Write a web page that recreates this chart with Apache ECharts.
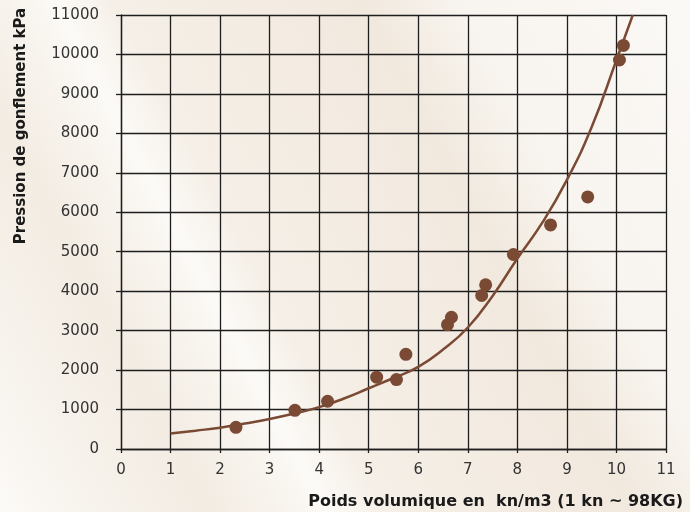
<!DOCTYPE html>
<html>
<head>
<meta charset="utf-8">
<script src="https://cdn.jsdelivr.net/npm/echarts@6/dist/echarts.min.js"></script>
<style>
html,body{margin:0;padding:0;}
body{width:690px;height:512px;overflow:hidden;
background:linear-gradient(62deg,#fcfaf7 0%,#f6f1ea 12%,#f3ece3 22%,#f8f4ee 30%,#fcfaf7 34%,#f5efe7 40%,#f3ebe1 58%,#f1e9de 66%,#f8f4ef 76%,#fbf9f6 100%);}
#c{width:690px;height:512px;}
</style>
</head>
<body>
<div id="c"></div>
<script>
// Measured points: poids volumique (kN/m3) vs pression de gonflement (kPa)
const pointX = [2.32, 3.51, 4.17, 5.16, 5.56, 5.75, 6.59, 6.67, 7.28, 7.36, 7.92, 8.67, 9.42, 10.06, 10.14];
const pointY = [550, 980, 1210, 1820, 1760, 2400, 3150, 3340, 3890, 4160, 4930, 5680, 6390, 9860, 10230];
// Fitted curve
const curveX = [1.0, 1.5, 2.0, 2.5, 3.0, 3.5, 4.0, 4.5, 5.0, 5.5, 6.0, 6.5, 7.0, 7.5, 8.0, 8.5, 9.0, 9.5, 10.0, 10.33];
const curveY = [395, 465, 540, 645, 760, 900, 1060, 1280, 1540, 1800, 2080, 2520, 3080, 3880, 4830, 5730, 6820, 8160, 9860, 11000];
const xTicks = [0,1,2,3,4,5,6,7,8,9,10,11];
const yTicks = [0,1000,2000,3000,4000,5000,6000,7000,8000,9000,10000,11000];
const xTitle = 'Poids volumique en  kn/m3 (1 kn ~ 98KG)';
const yTitle = 'Pression de gonflement kPa';

const brown = '#7a4a34';
const gridCol = '#1e1e1e';
const chart = echarts.init(document.getElementById('c'), null, {renderer:'canvas'});
chart.setOption({
  backgroundColor: 'transparent',
  animation: false,
  title: {
    text: xTitle, right: 2, top: 489,
    textStyle: {fontFamily: 'DejaVu Sans', fontWeight: 'bold', fontSize: 16, color: '#1a1a1a'}
  },
  graphic: [{
    type: 'text', x: 21, y: 126, rotation: Math.PI/2,
    style: {text: yTitle, fontFamily: 'DejaVu Sans', fontWeight: 'bold', fontSize: 15, fill: '#1a1a1a',
            textAlign: 'center', textVerticalAlign: 'middle'}
  }],
  grid: {left: 121, right: 24, top: 15, bottom: 63},
  xAxis: {
    type: 'value', min: xTicks[0], max: xTicks[xTicks.length-1], interval: 1,
    axisLine: {show: true, lineStyle: {color: gridCol, width: 1.3}},
    axisTick: {show: true, length: 4, lineStyle: {color: gridCol, width: 1.3}},
    splitLine: {show: true, lineStyle: {color: gridCol, width: 1.3}},
    axisLabel: {margin: 14, fontFamily: 'DejaVu Sans', fontSize: 15, color: '#333'}
  },
  yAxis: {
    type: 'value', min: yTicks[0], max: yTicks[yTicks.length-1], interval: 1000,
    axisLine: {show: true, lineStyle: {color: gridCol, width: 1.3}},
    axisTick: {show: true, length: 5, lineStyle: {color: gridCol, width: 1.3}},
    splitLine: {show: true, lineStyle: {color: gridCol, width: 1.3}},
    axisLabel: {margin: 22, fontFamily: 'DejaVu Sans', fontSize: 15, color: '#333', formatter: v => String(v)}
  },
  series: [{
    type: 'line', data: curveX.map((x,i)=>[x, curveY[i]]), smooth: 0.5, showSymbol: false,
    lineStyle: {color: brown, width: 2.5}, z: 2
  },{
    type: 'scatter', data: pointX.map((x,i)=>[x, pointY[i]]), symbolSize: 13,
    itemStyle: {color: brown, opacity: 1}, z: 3
  }]
});
</script>
</body>
</html>
